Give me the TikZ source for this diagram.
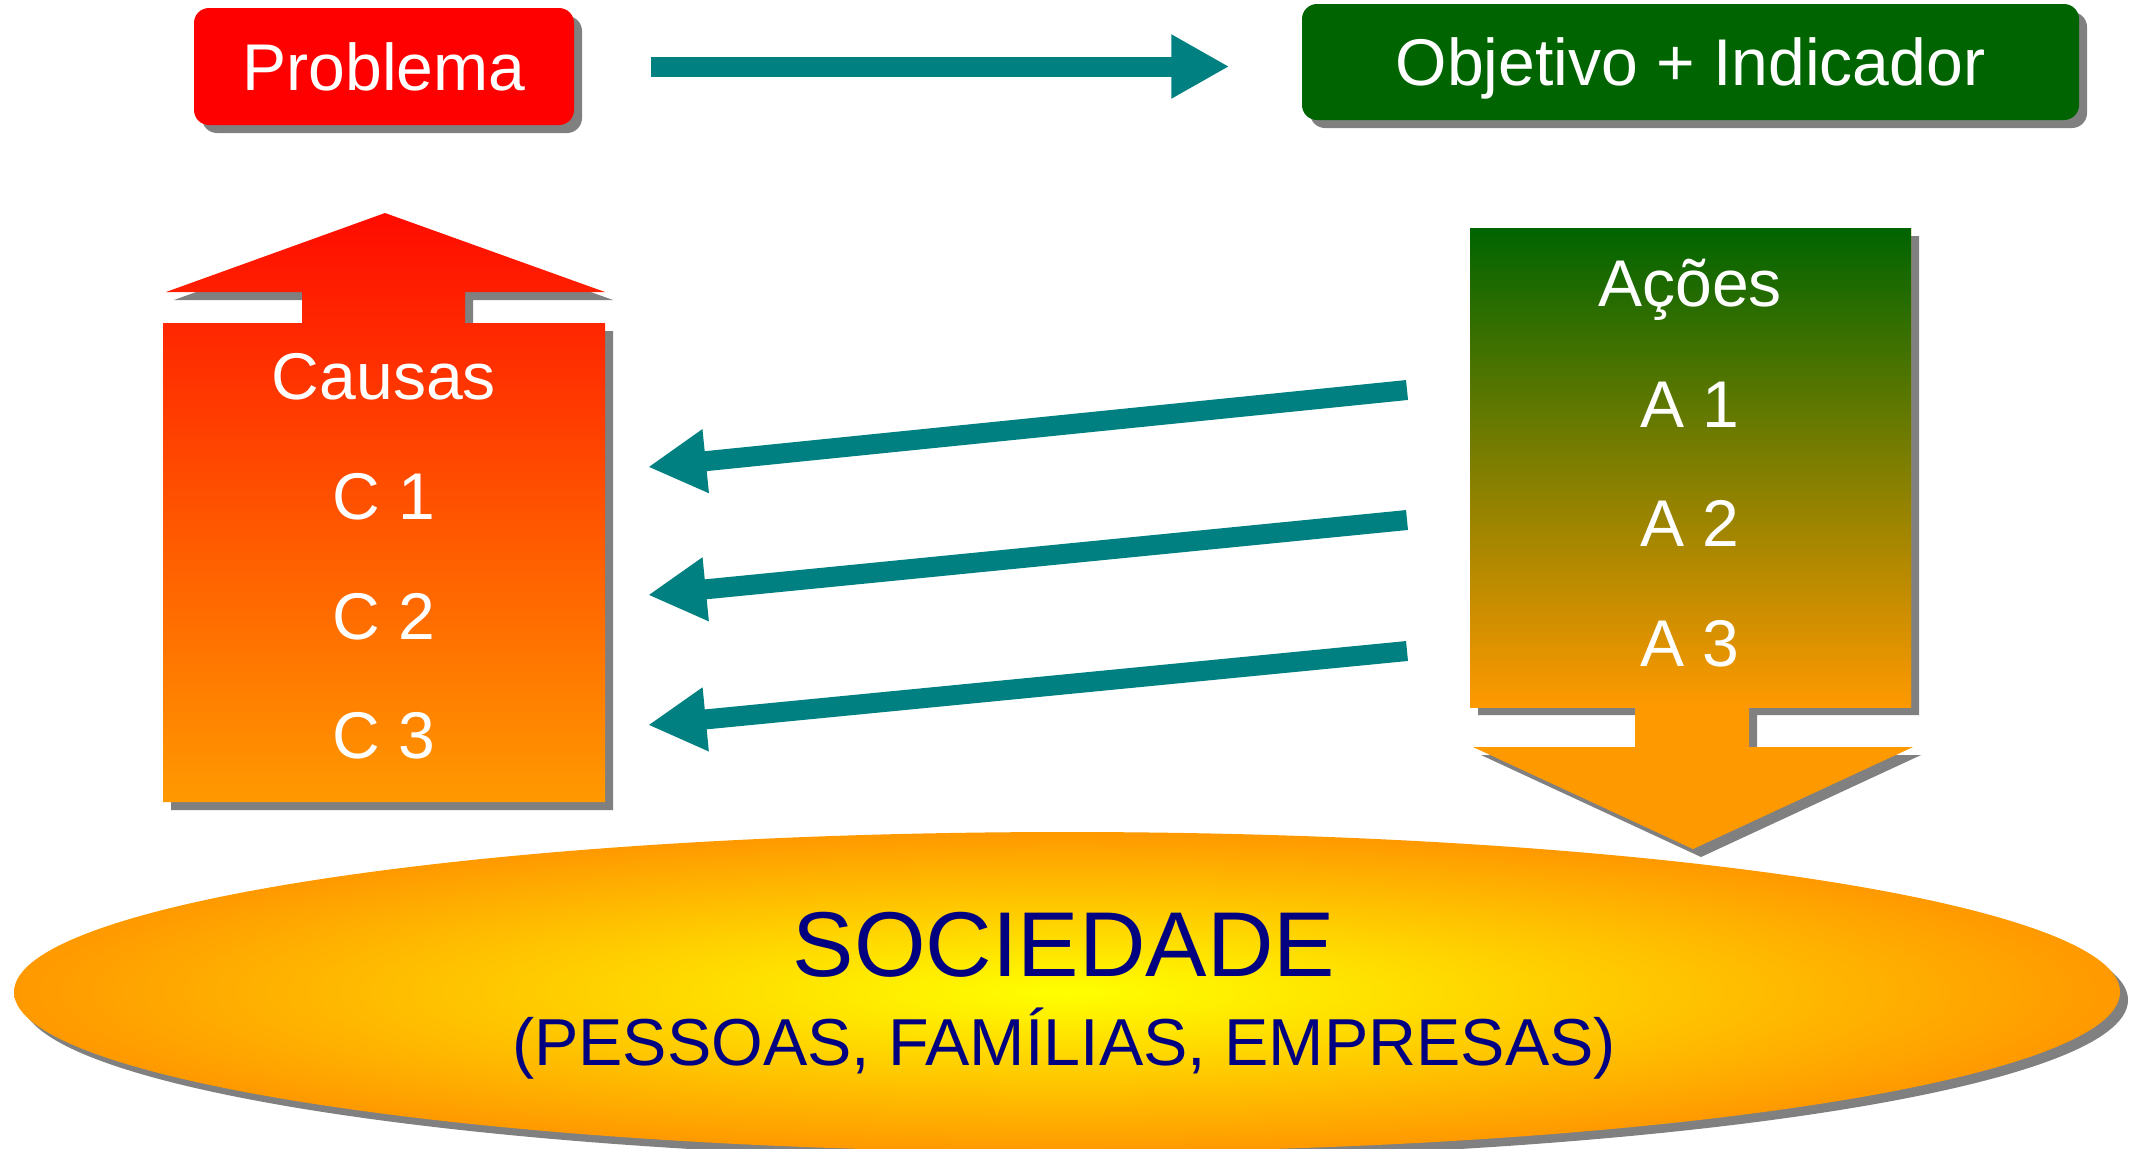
\documentclass[tikz,border=0pt]{standalone}
\usepackage{fontspec}
\setmainfont{Liberation Sans}
\usetikzlibrary{arrows.meta,shadows}

\begin{document}
\begin{tikzpicture}[scale=1]

% definiciones

% colores
\definecolor{verdeosc}{RGB}{0,100,0}
\definecolor{naranja}{RGB}{255,153,0}
\definecolor{rojoarr}{RGB}{255,12,0}
\definecolor{azulosc}{RGB}{0,0,128}
\definecolor{verdeazul}{RGB}{0,128,128}

% estilos de linea y relleno
\tikzstyle{sombra} = [drop shadow={shadow xshift=0.08cm,shadow yshift=-0.08cm,fill=black!50,opacity=1}]
\tikzstyle{flecha} = [line width=0.20cm,verdeazul,-{Triangle[length=0.58cm,width=0.60cm]}]
\tikzstyle{texto}  = [text=white,font=\fontsize{18.8}{22}\selectfont,text height=13.5pt,text depth=0pt]
\tikzstyle{caja}   = [texto,sombra,rounded corners=0.15cm,inner sep=0pt]

% marco
\useasboundingbox (0,0) rectangle (21.31,-11.48);

% cajas superiores
\node[caja,fill=red,minimum width=3.80cm,minimum height=1.17cm] (problema) at (3.84,-0.665) {Problema};
\node[caja,fill=verdeosc,minimum width=7.77cm,minimum height=1.16cm] (objetivo) at (16.905,-0.62) {Objetivo + Indicador};
\draw[flecha,shorten <=0.76cm,shorten >=0.72cm] (problema.east) -- (problema.east -| objetivo.west);

% causas (flecha hacia arriba)
\path[sombra,top color=rojoarr,bottom color=naranja]
	(1.63,-8.02) -- (1.63,-3.23) -- (3.02,-3.23) -- (3.02,-2.92) -- (1.66,-2.92)
	-- (3.85,-2.13) -- (6.05,-2.92) -- (4.65,-2.92) -- (4.65,-3.23)
	-- (6.05,-3.23) -- (6.05,-8.02) -- cycle;
\node[texto] (causas) at (3.84,-3.76) {Causas};
\node[texto] (c1) at (3.84,-4.96) {C 1};
\node[texto] (c2) at (3.84,-6.16) {C 2};
\node[texto] (c3) at (3.84,-7.35) {C 3};

% acoes (flecha hacia abajo)
\path[sombra,fill=naranja]
	(14.70,-2.28) -- (19.11,-2.28) -- (19.11,-7.07) -- (17.49,-7.07) -- (17.49,-7.47)
	-- (19.13,-7.47) -- (16.93,-8.49) -- (14.73,-7.47) -- (16.35,-7.47)
	-- (16.35,-7.07) -- (14.70,-7.07) -- cycle;
\shade[top color=verdeosc,bottom color=naranja] (14.70,-2.28) rectangle (19.11,-7.07);
\node[texto] (acoes) at (16.90,-2.83) {Ações};
\node[texto] (a1) at (16.90,-4.04) {A 1};
\node[texto] (a2) at (16.90,-5.23) {A 2};
\node[texto] (a3) at (16.90,-6.43) {A 3};

% flechas de acoes a causas
\coordinate (sal1) at (14.07,-3.90);
\coordinate (sal2) at (14.07,-5.20);
\coordinate (sal3) at (14.07,-6.51);
\coordinate (lle1) at (6.48,-4.67);
\coordinate (lle2) at (6.48,-5.95);
\coordinate (lle3) at (6.48,-7.25);
\draw[flecha] (sal1) -- (lle1);
\draw[flecha] (sal2) -- (lle2);
\draw[flecha] (sal3) -- (lle3);

% sociedade
\path[sombra,inner color=yellow,outer color=naranja] (10.67,-9.92) ellipse (10.53 and 1.60);
\node[font=\fontsize{26.2}{30}\selectfont,text=azulosc] (sociedade) at (10.64,-9.45) {SOCIEDADE};
\node[font=\fontsize{18.9}{22}\selectfont,text=azulosc] (pessoas) at (10.64,-10.44) {(PESSOAS, FAMÍLIAS, EMPRESAS)};

\end{tikzpicture}
\end{document}
